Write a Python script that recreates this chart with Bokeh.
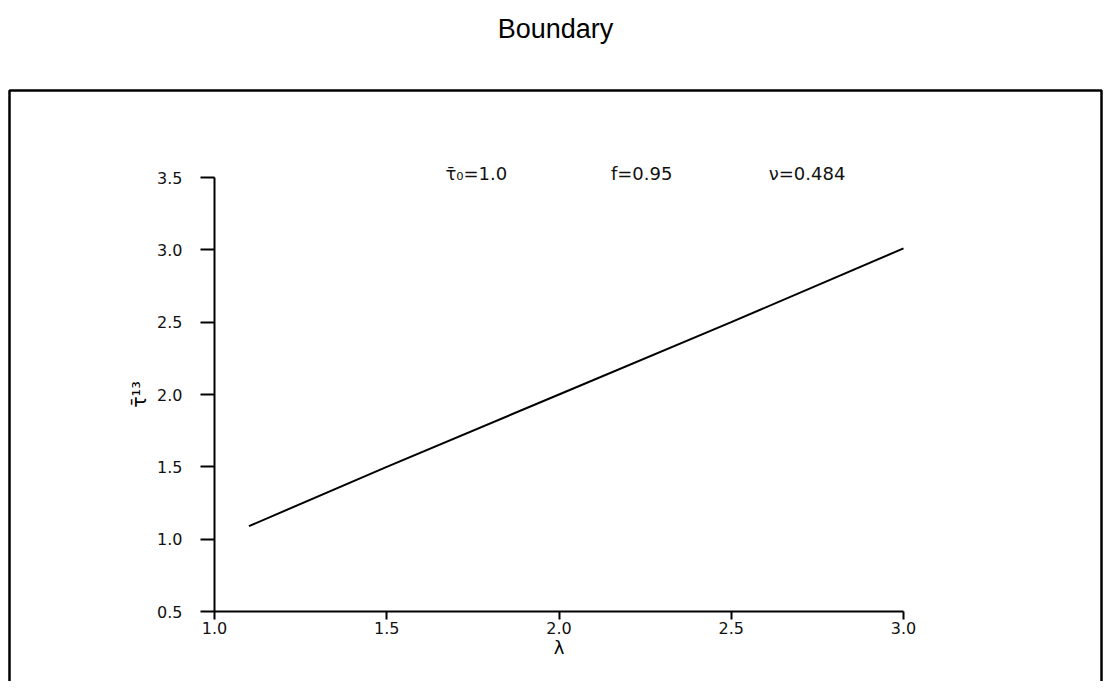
from bokeh.plotting import figure
from bokeh.models import Range1d, Label, BoxAnnotation, FixedTicker, NumeralTickFormatter
from bokeh.embed import file_html
from bokeh.resources import INLINE

# data
lam = [1.1, 1.5, 2.0, 2.5, 3.0]
tau13 = [1.09, 1.50, 2.00, 2.50, 3.01]
x_ticks = [1.0, 1.5, 2.0, 2.5, 3.0]
y_ticks = [0.5, 1.0, 1.5, 2.0, 2.5, 3.0, 3.5]
params = ["τ̄₀=1.0", "f=0.95", "ν=0.484"]
param_x = [1.76, 2.24, 2.72]
param_y = 3.53

# layout (pixels): the axes box spans x 214..903 and y 177..611
W, H = 1103, 681
AX_L, AX_R, AX_T, AX_B = 214, 903, 177, 611
XMIN, XMAX, YMIN, YMAX = 1.0, 3.0, 0.5, 3.5
sx = (AX_R - AX_L) / (XMAX - XMIN)
sy = (AX_B - AX_T) / (YMAX - YMIN)
x_range = Range1d(XMIN - AX_L / sx, XMIN + (W - AX_L) / sx)
y_range = Range1d(YMIN - (H - AX_B) / sy, YMIN + AX_B / sy)

p = figure(width=W, height=H, output_backend="svg", toolbar_location=None,
           x_range=x_range, y_range=y_range,
           min_border_left=0, min_border_right=0, min_border_top=0, min_border_bottom=0)
p.grid.visible = False
p.outline_line_color = None
p.background_fill_color = "white"
p.border_fill_color = "white"

for ax in (p.xaxis[0], p.yaxis[0]):
    ax.axis_line_width = 2
    ax.axis_line_color = "black"
    ax.major_tick_line_width = 2
    ax.major_tick_line_color = "black"
    ax.minor_tick_line_color = None
    ax.major_tick_in = 0
    ax.major_label_text_font = "DejaVu Sans"
    ax.major_label_text_font_size = "16px"
    ax.major_label_text_color = "#111111"
    ax.formatter = NumeralTickFormatter(format="0.0")
    ax.axis_label_text_font = "DejaVu Sans"
    ax.axis_label_text_font_style = "normal"
    ax.axis_label_text_color = "black"

p.xaxis.ticker = FixedTicker(ticks=x_ticks)
p.yaxis.ticker = FixedTicker(ticks=y_ticks)
p.xaxis.fixed_location = YMIN
p.yaxis.fixed_location = XMIN
p.xaxis.bounds = (XMIN, XMAX)
p.yaxis.bounds = (YMIN, YMAX)
p.xaxis.major_tick_out = 8
p.yaxis.major_tick_out = 14
p.xaxis.major_label_standoff = 2
p.yaxis.major_label_standoff = 18

p.xaxis.axis_label = "λ"
p.xaxis.axis_label_text_font_size = "18px"
p.xaxis.axis_label_standoff = 0

p.yaxis.axis_label = "τ̄¹³"
p.yaxis.axis_label_text_font_size = "19px"
p.yaxis.axis_label_standoff = 4

p.line(lam, tau13, line_color="black", line_width=2)

for t, xx in zip(params, param_x):
    p.add_layout(Label(x=xx, y=param_y, text=t, text_align="center", text_baseline="middle",
                       text_font="DejaVu Sans", text_font_size="18px", text_color="#111111"))

p.add_layout(Label(x=555, y=28, x_units="canvas", y_units="canvas", text="Boundary",
                   text_align="center", text_baseline="middle",
                   text_font="Liberation Sans", text_font_size="27px", text_color="black"))

p.add_layout(BoxAnnotation(left=9, right=1101, top=90, bottom=700,
                           left_units="canvas", right_units="canvas",
                           top_units="canvas", bottom_units="canvas",
                           fill_alpha=0, line_color="black", line_alpha=1.0, line_width=2.5))

open("out.html", "w").write(file_html(p, INLINE))
